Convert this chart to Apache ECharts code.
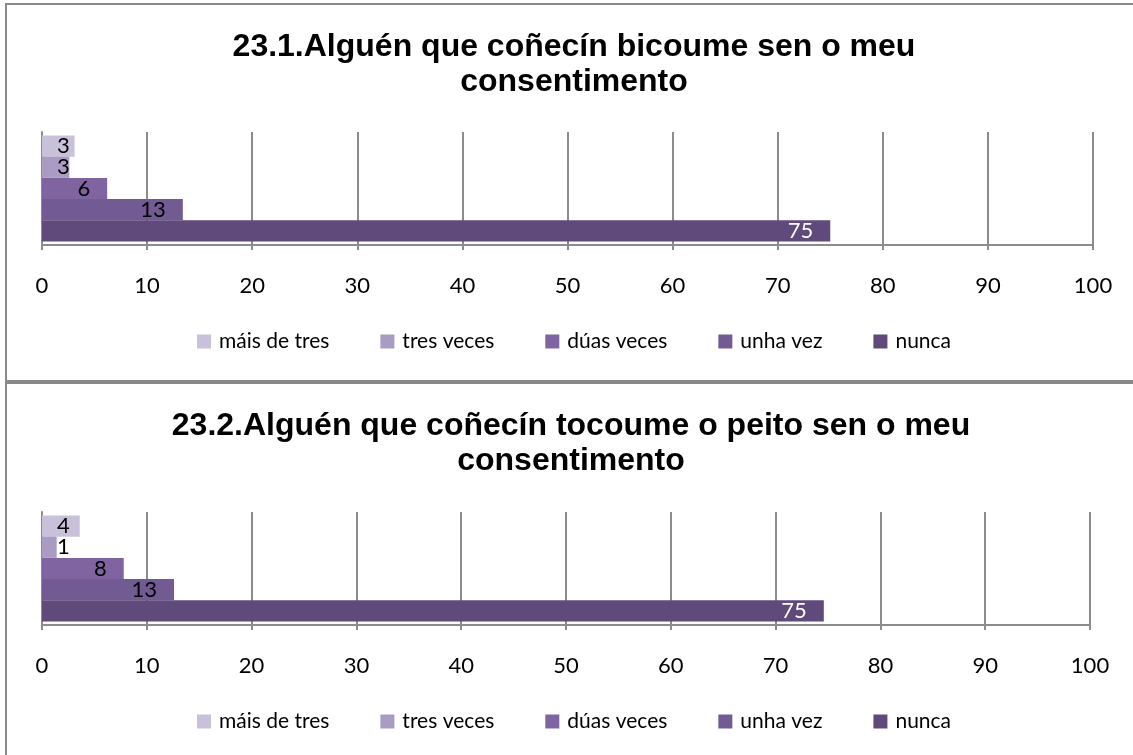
<!DOCTYPE html>
<html>
<head>
<meta charset="utf-8">
<script src="https://cdn.jsdelivr.net/npm/echarts@6/dist/echarts.min.js"></script>
<style>
  html, body { margin: 0; padding: 0; background: #fff; }
  #chart { width: 1133px; height: 755px; }
</style>
</head>
<body>
<div id="chart"></div>
<script>
// answer categories, in legend order
const categories = ['máis de tres', 'tres veces', 'dúas veces', 'unha vez', 'nunca'];
const colors = ['#C9C1DA', '#A99BC2', '#8064A2', '#725A93', '#604A7B'];

const title1 = '23.1.Alguén que coñecín bicoume sen o meu\nconsentimento';
const title2 = '23.2.Alguén que coñecín tocoume o peito sen o meu\nconsentimento';

// percentages
const values1 = [3.1, 2.6, 6.2, 13.4, 75.0];
const values2 = [3.6, 1.4, 7.8, 12.6, 74.6];

const xTicks = [0, 10, 20, 30, 40, 50, 60, 70, 80, 90, 100];

const font = 'Lato, "Open Sans", sans-serif';
const gridColor = '#8c8c8c';

const chart = echarts.init(document.getElementById('chart'));

function makeSeries(values, axisIndex) {
  return categories.map(function (name, i) {
    const small = values[i] < 5;
    return {
      name: name,
      type: 'bar',
      xAxisIndex: axisIndex,
      yAxisIndex: axisIndex,
      barGap: '0%',
      barCategoryGap: '6%',
      itemStyle: { color: colors[i] },
      data: [values[i]],
      label: {
        show: true,
        position: small ? 'insideLeft' : 'insideRight',
        distance: small ? 15 : 17,
        color: i === 4 ? '#fff' : '#000',
        fontFamily: font,
        fontSize: 22,
        formatter: function (p) { return Math.round(p.value); }
      }
    };
  });
}

function makeXAxis(gridIndex) {
  return {
    type: 'value',
    gridIndex: gridIndex,
    min: xTicks[0],
    max: xTicks[xTicks.length - 1],
    interval: 10,
    axisLine: { show: true, lineStyle: { color: gridColor, width: 2 } },
    axisTick: { show: true, length: 5, lineStyle: { color: gridColor, width: 2 } },
    splitLine: { show: true, lineStyle: { color: gridColor, width: 2 } },
    axisLabel: { color: '#000', fontFamily: font, fontSize: 22, margin: 30 }
  };
}

function makeYAxis(gridIndex) {
  return {
    type: 'category',
    gridIndex: gridIndex,
    data: [''],
    axisLine: { show: true, lineStyle: { color: gridColor, width: 2 } },
    axisTick: { show: false },
    axisLabel: { show: false }
  };
}

const titleStyle = {
  fontFamily: '"Liberation Sans", Arial, sans-serif',
  fontWeight: 'bold',
  fontSize: 32,
  lineHeight: 35,
  color: '#000'
};

const legendStyle = {
  data: categories,
  left: 192,
  itemWidth: 14,
  itemHeight: 14,
  itemGap: 51,
  icon: 'rect',
  textStyle: { fontFamily: font, fontSize: 21, color: '#000', padding: [0, 0, 0, 3] }
};

chart.setOption({
  animation: false,
  title: [
    { text: title1, left: 569, textAlign: 'center', top: 25, textStyle: titleStyle },
    { text: title2, left: 566, textAlign: 'center', top: 404, textStyle: titleStyle }
  ],
  legend: [
    Object.assign({ top: 326 }, legendStyle),
    Object.assign({ top: 706 }, legendStyle)
  ],
  grid: [
    { left: 42, right: 40, top: 132, height: 113 },
    { left: 42, right: 43, top: 512, height: 113 }
  ],
  xAxis: [makeXAxis(0), makeXAxis(1)],
  yAxis: [makeYAxis(0), makeYAxis(1)],
  graphic: [
    { type: 'rect', shape: { x: 6, y: 4, width: 1200, height: 377 },
      style: { fill: 'none', stroke: '#8a8a8a', lineWidth: 2 }, silent: true },
    { type: 'rect', shape: { x: 6, y: 383, width: 1200, height: 400 },
      style: { fill: 'none', stroke: '#8a8a8a', lineWidth: 2 }, silent: true }
  ],
  series: makeSeries(values1, 0).concat(makeSeries(values2, 1))
});
</script>
</body>
</html>
